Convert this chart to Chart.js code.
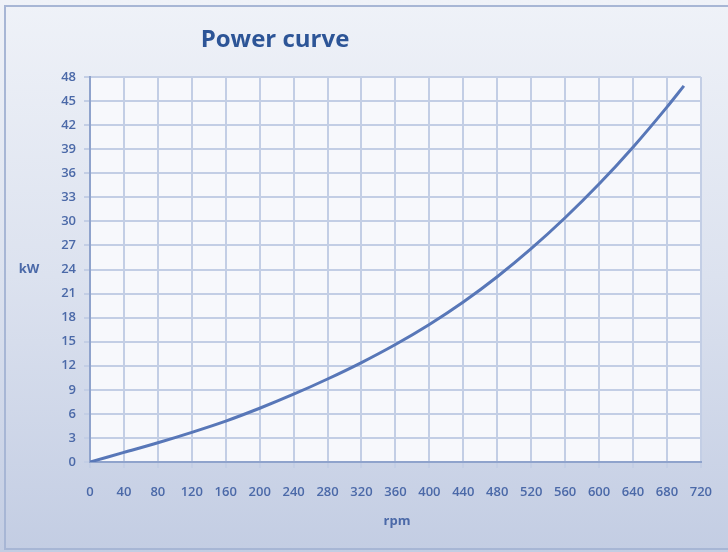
<!DOCTYPE html>
<html>
<head>
<meta charset="utf-8">
<script src="https://cdn.jsdelivr.net/npm/chart.js@4"></script>
<style>
  html, body { margin: 0; padding: 0; background: #fff; }
  #wrap { width: 728px; height: 552px; position: relative; }
</style>
</head>
<body>
<div id="wrap"><canvas id="power-graph" width="728" height="552"></canvas></div>
<script>
// values
const rpm = [0, 40, 80, 120, 160, 200, 240, 280, 320, 360, 400, 440, 480, 520, 560, 600, 640, 680, 700];
const kW  = [0, 1.2, 2.4, 3.7, 5.1, 6.7, 8.45, 10.35, 12.4, 14.65, 17.15, 19.95, 23.1, 26.6, 30.45, 34.65, 39.25, 44.25, 46.9];
const xTicks = { min: 0, max: 720, step: 40 };
const yTicks = { min: 0, max: 48, step: 3 };
const titleText = 'Power curve';
const xTitle = 'rpm';
const yTitle = 'kW';

const textBlue = '#4b69a8';
const gridColor = '#c3cee5';

const backdrop = {
    id: 'backdrop',
    beforeDraw(chart) {
        const c = chart.ctx;
        const area = chart.chartArea;
        const g = c.createLinearGradient(0, 0, 0, chart.height);
        g.addColorStop(0, '#eff2f8');
        g.addColorStop(0.5, '#dce2ef');
        g.addColorStop(1, '#c3cde3');
        c.save();
        c.fillStyle = g;
        c.fillRect(0, 0, chart.width, chart.height);
        c.strokeStyle = '#a7b6d5';
        c.lineWidth = 2;
        c.strokeRect(5, 6, chart.width + 10, chart.height - 9);
        c.fillStyle = '#f7f8fc';
        c.fillRect(area.left, area.top, area.right - area.left, area.bottom - area.top);
        c.restore();
    },
    afterDraw(chart) {
        const c = chart.ctx;
        c.save();
        c.fillStyle = '#2d5597';
        c.font = 'bold 24px "Open Sans", sans-serif';
        c.textAlign = 'center';
        c.textBaseline = 'middle';
        c.fillText(titleText, 275, 40);
        c.fillStyle = textBlue;
        c.font = 'bold 13px "Open Sans", sans-serif';
        c.fillText(yTitle, 29, 269);
        c.fillText(xTitle, 397, 521);
        c.restore();
    }
};

const ctx = document.getElementById('power-graph').getContext('2d');
const chart = new Chart(ctx, {
    type: 'line',
    data: {
        datasets: [{
            label: 'Power',
            data: rpm.map((r, i) => ({ x: r, y: kW[i] })),
            borderColor: '#5877b8',
            borderWidth: 3,
            pointRadius: 0,
            cubicInterpolationMode: 'monotone',
            fill: false
        }]
    },
    options: {
        responsive: false,
        animation: false,
        layout: { padding: { left: 20, right: 25, top: 77, bottom: 30 } },
        plugins: {
            legend: { display: false },
            tooltip: { enabled: false }
        },
        scales: {
            x: {
                type: 'linear',
                min: xTicks.min,
                max: xTicks.max,
                afterFit: s => { s.height = 60; },
                ticks: {
                    stepSize: xTicks.step,
                    color: textBlue,
                    font: { family: '"Open Sans", sans-serif', size: 13, weight: '600' },
                    padding: 16,
                    maxRotation: 0,
                    autoSkip: false
                },
                grid: { color: gridColor, lineWidth: 2, tickLength: 6 },
                border: { color: '#8fa3cc', width: 2 }
            },
            y: {
                type: 'linear',
                min: yTicks.min,
                max: yTicks.max,
                afterFit: s => { s.width = 70; },
                ticks: {
                    stepSize: yTicks.step,
                    color: textBlue,
                    font: { family: '"Open Sans", sans-serif', size: 13, weight: '600' },
                    padding: 8,
                    autoSkip: false
                },
                grid: { color: gridColor, lineWidth: 2, tickLength: 6 },
                border: { color: '#8fa3cc', width: 2 }
            }
        }
    },
    plugins: [backdrop]
});
</script>
</body>
</html>
